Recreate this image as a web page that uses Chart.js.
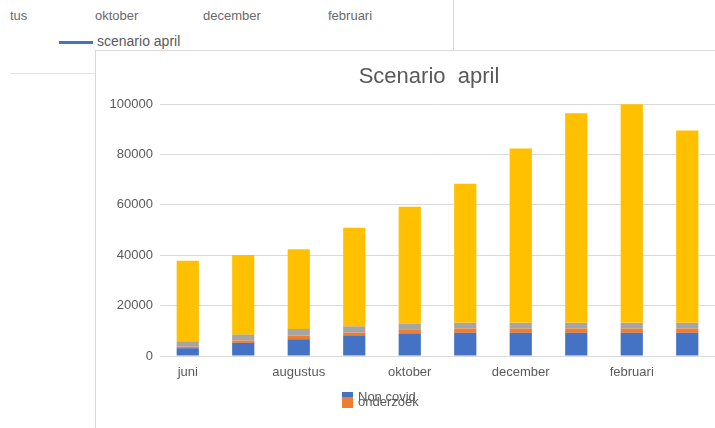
<!DOCTYPE html>
<html>
<head>
<meta charset="utf-8">
<script src="https://cdn.jsdelivr.net/npm/chart.js@4/dist/chart.umd.min.js"></script>
<style>
  body { margin: 0; width: 715px; height: 428px; overflow: hidden; background: #fff; font-family: "Liberation Sans", Arial, sans-serif; color: #595959; }
  .abs { position: absolute; }
  .back-label { position: absolute; top: 8px; font-size: 13px; color: #6a6a6a; }
  #frame { position: absolute; left: 95px; top: 50px; width: 640px; height: 400px; border-left: 1px solid #d9d9d9; border-top: 1px solid #d9d9d9; background: #fff; }
  #wrap { position: absolute; left: 96px; top: 51px; width: 619px; height: 377px; }
  #title { position: absolute; left: 329px; width: 200px; top: 63px; text-align: center; font-size: 22px; line-height: 26px; color: #595959; white-space: pre; }
  .leg-box { position: absolute; width: 11px; }
  .leg-text { position: absolute; font-size: 13px; line-height: 13px; color: #595959; white-space: nowrap; }
</style>
</head>
<body>

<!-- resten van de grafiek erachter -->
<div class="back-label" style="left:10px;">tus</div>
<div class="back-label" style="left:95px;">oktober</div>
<div class="back-label" style="left:203px;">december</div>
<div class="back-label" style="left:328px;">februari</div>
<div class="abs" style="left:453px;top:0;width:1px;height:50px;background:#d9d9d9;"></div>
<div class="abs" style="left:59px;top:41px;width:34px;height:3px;background:#4472c4;"></div>
<div class="abs" style="left:97px;top:33px;font-size:14px;color:#595959;">scenario april</div>
<div class="abs" style="left:10px;top:73px;width:85px;height:1px;background:#e3e3e3;"></div>

<div id="frame"></div>
<div id="wrap"><canvas id="scenario"></canvas></div>
<div id="title"></div>
<div id="legend"></div>

<script>
var titel = 'Scenario  april';
var maanden = ['juni', 'juli', 'augustus', 'september', 'oktober', 'november', 'december', 'januari', 'februari', 'maart'];
var yTicks = [0, 20000, 40000, 60000, 80000, 100000];

var nonCovid  = [3100, 5200, 6650, 8200, 9000, 9200, 9200, 9200, 9200, 9200];
var onderzoek = [650, 900, 1450, 1050, 1600, 1700, 1700, 1700, 1700, 1700];
var covid     = [2100, 2370, 2650, 2500, 2300, 2250, 2250, 2250, 2250, 2250];
var overig    = [31950, 31630, 31600, 39150, 46300, 55250, 69150, 83150, 86750, 76300];

var kleuren = ['#4472c4', '#ed7d31', '#a5a5a5', '#ffc000'];

function makeDatasets(){
  var labels = ['Non covid', 'onderzoek', 'covid', 'overig'];
  var series = [nonCovid, onderzoek, covid, overig];
  var datasets = [];
  for (var i = 0; i < series.length; i++) {
    datasets.push({
      label: labels[i],
      data: series[i],
      backgroundColor: kleuren[i],
      borderWidth: 0,
      categoryPercentage: 1,
      barPercentage: 0.4
    });
  }
  return datasets;
}

// legenda zoals in excel: twee items over elkaar heen
function printLegend(datasets){
  var legend = document.getElementById('legend');
  for (var i = 0; i < 2; i++) {
    var box = document.createElement('div');
    box.className = 'leg-box';
    box.style.background = datasets[i].backgroundColor;
    box.style.left = '342px';
    box.style.top = (i == 0 ? 392 : 397) + 'px';
    box.style.height = (i == 0 ? 6 : 11) + 'px';
    legend.appendChild(box);

    var txt = document.createElement('div');
    txt.className = 'leg-text';
    txt.textContent = datasets[i].label;
    txt.style.left = '358px';
    txt.style.top = (390 + i * 5) + 'px';
    legend.appendChild(txt);
  }
}

function printChart(){
  var datasets = makeDatasets();
  document.getElementById('title').textContent = titel;
  var ctx = document.getElementById('scenario');
  new Chart(ctx, {
    type: 'bar',
    data: {
      labels: maanden,
      datasets: datasets
    },
    options: {
      responsive: true,
      maintainAspectRatio: false,
      animation: false,
      layout: { padding: { top: 53, left: 0, right: 0, bottom: 0 } },
      plugins: {
        legend: { display: false },
        tooltip: { enabled: false },
        title: { display: false }
      },
      scales: {
        x: {
          stacked: true,
          grid: { display: false, drawTicks: false },
          border: { display: true, color: '#d9d9d9', width: 1 },
          ticks: {
            autoSkip: false,
            maxRotation: 0,
            padding: 9,
            color: '#595959',
            font: { family: '"Liberation Sans", Arial, sans-serif', size: 13 },
            callback: function(value, index){
              return index % 2 == 0 ? maanden[index] : '';
            }
          },
          afterFit: function(scale){ scale.height = 72; }
        },
        y: {
          stacked: true,
          min: yTicks[0],
          max: yTicks[yTicks.length - 1],
          afterBuildTicks: function(scale){
            scale.ticks = yTicks.map(function(v){ return { value: v }; });
          },
          grid: { color: '#d9d9d9', drawTicks: false },
          border: { display: false },
          ticks: {
            padding: 7,
            color: '#595959',
            font: { family: '"Liberation Sans", Arial, sans-serif', size: 13 },
            callback: function(value){ return value; }
          },
          afterFit: function(scale){ scale.width = 64; }
        }
      }
    }
  });
  printLegend(datasets);
}

printChart();
</script>
</body>
</html>
